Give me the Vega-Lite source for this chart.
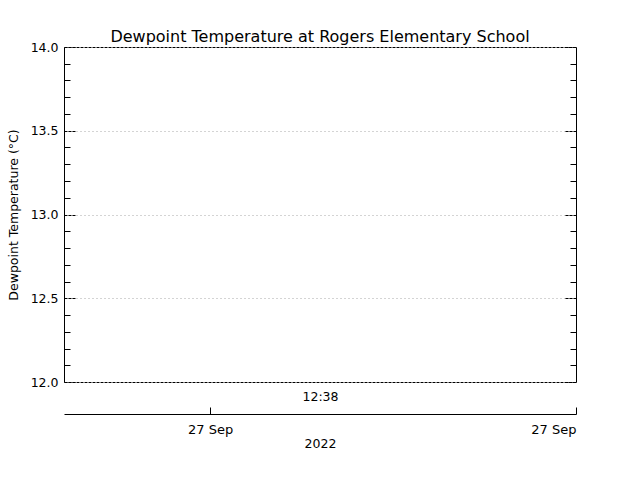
{
  "$schema": "https://vega.github.io/schema/vega-lite/v6.json",
  "width": 512,
  "height": 335,
  "autosize": "none",
  "padding": {"left": 64, "top": 47, "right": 64, "bottom": 98},
  "background": "white",
  "config": {
    "view": {"stroke": null},
    "font": "DejaVu Sans",
    "axis": {
      "labelFont": "DejaVu Sans",
      "titleFont": "DejaVu Sans",
      "labelFontSize": 12.5,
      "titleFontSize": 12.5,
      "labelColor": "black",
      "titleColor": "black",
      "titleFontWeight": "normal",
      "domainColor": "black",
      "tickColor": "black",
      "grid": false
    }
  },
  "title": {
    "text": "Dewpoint Temperature at Rogers Elementary School",
    "font": "DejaVu Sans",
    "fontSize": 16,
    "fontWeight": "normal",
    "color": "black",
    "anchor": "middle",
    "offset": -4
  },
  "data": {"values": [{"time": "2022-09-27T12:38:00", "dewpoint": null}]},
  "resolve": {"axis": {"x": "independent", "y": "independent"}},
  "layer": [
    {
      "mark": {"type": "point", "color": "black"},
      "encoding": {
        "x": {
          "field": "time",
          "type": "temporal",
          "scale": {
            "domain": [
              {"year": 2022, "month": 9, "date": 27, "hours": 12, "minutes": 30},
              {"year": 2022, "month": 9, "date": 27, "hours": 12, "minutes": 46}
            ]
          },
          "axis": {
            "orient": "bottom",
            "title": null,
            "domain": false,
            "ticks": false,
            "labelPadding": 8,
            "format": "%H:%M",
            "values": [{"year": 2022, "month": 9, "date": 27, "hours": 12, "minutes": 38}]
          }
        },
        "y": {
          "field": "dewpoint",
          "type": "quantitative",
          "scale": {"domain": [12, 14], "nice": false, "zero": false},
          "axis": {
            "orient": "left",
            "title": "Dewpoint Temperature (°C)",
            "titlePadding": 10,
            "ticks": false,
            "labelPadding": 6,
            "format": ".1f",
            "values": [12, 12.5, 13, 13.5, 14],
            "grid": true,
            "gridColor": {"condition": {"test": "datum.value == 12 || datum.value == 14", "value": "black"}, "value": "#a8a8a8"},
            "gridDash": {"condition": {"test": "datum.value == 12 || datum.value == 14", "value": [3, 1]}, "value": [1, 3]},
            "gridWidth": 1
          }
        }
      }
    },
    {
      "mark": {"type": "point", "color": "black"},
      "encoding": {
        "x": {
          "field": "time",
          "type": "temporal",
          "axis": {
            "orient": "bottom",
            "offset": 32,
            "title": "2022",
            "titlePadding": 1,
            "tickSize": -7,
            "labelPadding": 16,
            "labelFontSize": 13,
            "format": "%d %b",
            "values": [
              {"year": 2022, "month": 9, "date": 27, "hours": 12, "minutes": 34, "seconds": 34},
              {"year": 2022, "month": 9, "date": 27, "hours": 12, "minutes": 46}
            ]
          }
        },
        "y": {
          "field": "dewpoint",
          "type": "quantitative",
          "axis": {
            "orient": "right",
            "title": null,
            "labels": false,
            "tickSize": -11,
            "tickDash": [3, 1],
            "values": [12, 12.5, 13, 13.5, 14]
          }
        }
      }
    },
    {
      "mark": {"type": "point", "color": "black"},
      "encoding": {
        "x": {"field": "time", "type": "temporal", "axis": null},
        "y": {
          "field": "dewpoint",
          "type": "quantitative",
          "axis": {
            "orient": "left",
            "title": null,
            "labels": false,
            "domain": false,
            "tickSize": -11,
            "tickDash": [3, 1],
            "values": [12, 12.5, 13, 13.5, 14]
          }
        }
      }
    },
    {
      "mark": {"type": "point", "color": "black"},
      "encoding": {
        "x": {"field": "time", "type": "temporal", "axis": null},
        "y": {
          "field": "dewpoint",
          "type": "quantitative",
          "axis": {
            "orient": "left",
            "title": null,
            "labels": false,
            "domain": false,
            "tickSize": -6,
            "values": [12.1, 12.2, 12.3, 12.4, 12.6, 12.7, 12.8, 12.9, 13.1, 13.2, 13.3, 13.4, 13.6, 13.7, 13.8, 13.9]
          }
        }
      }
    },
    {
      "mark": {"type": "point", "color": "black"},
      "encoding": {
        "x": {"field": "time", "type": "temporal", "axis": null},
        "y": {
          "field": "dewpoint",
          "type": "quantitative",
          "axis": {
            "orient": "right",
            "title": null,
            "labels": false,
            "domain": false,
            "tickSize": -6,
            "values": [12.1, 12.2, 12.3, 12.4, 12.6, 12.7, 12.8, 12.9, 13.1, 13.2, 13.3, 13.4, 13.6, 13.7, 13.8, 13.9]
          }
        }
      }
    }
  ]
}
